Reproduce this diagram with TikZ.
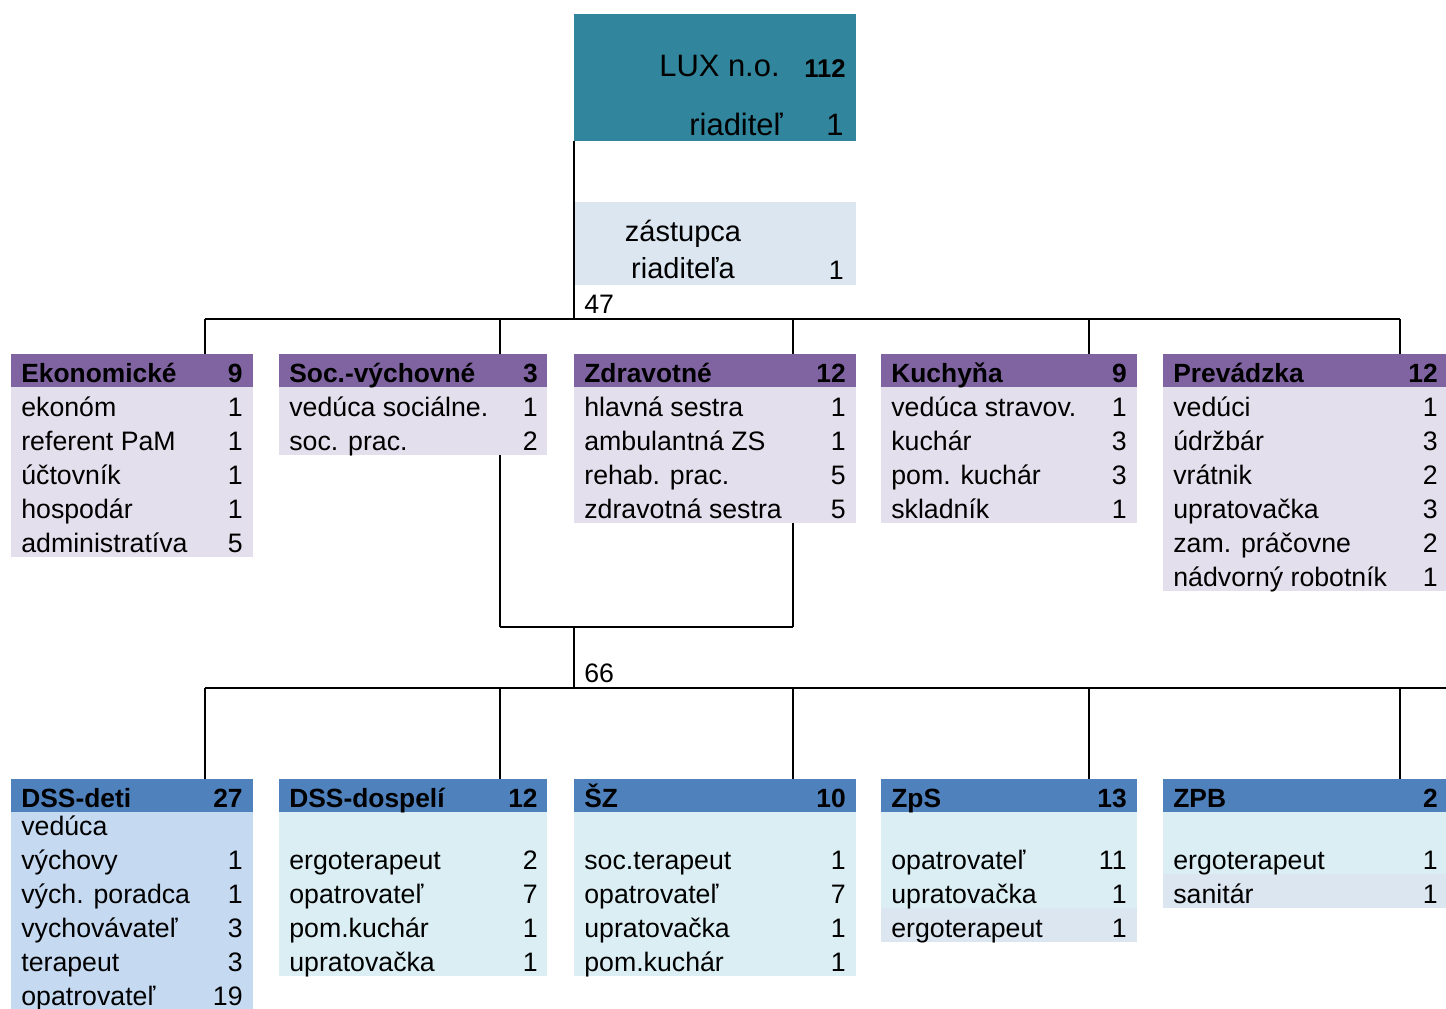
\documentclass[tikz,border=0pt]{standalone}
\usepackage{fontspec}
\setmainfont{Liberation Sans}
\definecolor{luxteal}{HTML}{31859C}
\definecolor{deputyblue}{HTML}{DCE6F1}
\definecolor{headpurple}{HTML}{8064A2}
\definecolor{bodypurple}{HTML}{E4DFEC}
\definecolor{headblue}{HTML}{4F81BD}
\definecolor{bodyblue}{HTML}{C5D9F1}
\definecolor{bodycyan}{HTML}{DAEEF3}
\tikzset{
    bus/.style={line width=1.1pt},
    link/.style={line width=0.8pt},
    head/.style={anchor=base west, inner sep=0pt, font=\bfseries\fontsize{15}{18}\selectfont},
    headnum/.style={anchor=base east, inner sep=0pt, font=\bfseries\fontsize{15}{18}\selectfont},
    job/.style={anchor=base west, inner sep=0pt, font=\fontsize{15.2}{18}\selectfont},
    jobnum/.style={anchor=base east, inner sep=0pt, font=\fontsize{15.2}{18}\selectfont},
}
\begin{document}
\begin{tikzpicture}[x=0.02cm, y=-0.02cm]
    \useasboundingbox (0,0) rectangle (1446,1008);
    \clip (0,0) rectangle (1446,1008);
    % Director and deputy
    \coordinate (lux) at (574,14);
    \fill [luxteal] (lux) rectangle (856,141);
    \node [job, anchor=base east, font=\fontsize{17.6}{20}\selectfont] (luxname) at (780,76) {LUX n.o.};
    \node [headnum, font=\bfseries\fontsize{14.6}{18}\selectfont] (luxnum) at (846,77) {112};
    \node [job, anchor=base east, font=\fontsize{17.6}{20}\selectfont] (boss) at (783,135) {riaditeľ};
    \node [jobnum, font=\fontsize{17.6}{20}\selectfont] (bossnum) at (844,135) {1};
    \coordinate (deputy) at (575,202);
    \fill [deputyblue] (deputy) rectangle (856,285);
    \node [job, anchor=base, font=\fontsize{16.5}{20}\selectfont] (deputy1) at (683,241) {zástupca};
    \node [job, anchor=base, font=\fontsize{16.5}{20}\selectfont] (deputy2) at (683,278) {riaditeľa};
    \node [jobnum] (deputynum) at (844,279) {1};
    % Upper bus
    \coordinate (top) at (574,141);
    \coordinate (bus47) at (574,319);
    \coordinate (busl) at (205,319);
    \coordinate (busr) at (1400,319);
    \draw [link] (top) -- (bus47);
    \draw [bus] (busl) -- (busr);
    \node [job] (sum47) at (584,313) {47};
    % Economic dept
    \coordinate (ekon) at (11,354);
    \fill [headpurple] (ekon) rectangle (253,387);
    \fill [bodypurple] (11,387) rectangle (253,557);
    \node [head] (ekon-name) at (21,382) {Ekonomické};
    \node [headnum] (ekon-num) at (243,382) {9};
    \foreach \jb/\cnt [count=\i] in {ekonóm/1, referent PaM/1, účtovník/1, hospodár/1, administratíva/5}
        {\node [job] (ekon-jb\i) at (21,382+34*\i) {\jb}; \node [jobnum] (ekon-cnt\i) at (243,382+34*\i) {\cnt};}
    % Social-educational dept
    \coordinate (soc) at (279,354);
    \fill [headpurple] (soc) rectangle (547,387);
    \fill [bodypurple] (279,387) rectangle (547,455);
    \node [head] (soc-name) at (289,382) {Soc.-výchovné};
    \node [headnum] (soc-num) at (538,382) {3};
    \foreach \jb/\cnt [count=\i] in {vedúca sociálne./1, soc. prac./2}
        {\node [job] (soc-jb\i) at (289,382+34*\i) {\jb}; \node [jobnum] (soc-cnt\i) at (538,382+34*\i) {\cnt};}
    % Health dept
    \coordinate (zdrav) at (574,354);
    \fill [headpurple] (zdrav) rectangle (856,387);
    \fill [bodypurple] (574,387) rectangle (856,523);
    \node [head] (zdrav-name) at (584,382) {Zdravotné};
    \node [headnum] (zdrav-num) at (846,382) {12};
    \foreach \jb/\cnt [count=\i] in {hlavná sestra/1, ambulantná ZS/1, rehab. prac./5, zdravotná sestra/5}
        {\node [job] (zdrav-jb\i) at (584,382+34*\i) {\jb}; \node [jobnum] (zdrav-cnt\i) at (846,382+34*\i) {\cnt};}
    % Kitchen
    \coordinate (kuch) at (881,354);
    \fill [headpurple] (kuch) rectangle (1137,387);
    \fill [bodypurple] (881,387) rectangle (1137,523);
    \node [head] (kuch-name) at (891,382) {Kuchyňa};
    \node [headnum] (kuch-num) at (1127,382) {9};
    \foreach \jb/\cnt [count=\i] in {vedúca stravov./1, kuchár/3, pom. kuchár/3, skladník/1}
        {\node [job] (kuch-jb\i) at (891,382+34*\i) {\jb}; \node [jobnum] (kuch-cnt\i) at (1127,382+34*\i) {\cnt};}
    % Operations
    \coordinate (prev) at (1163,354);
    \fill [headpurple] (prev) rectangle (1446,387);
    \fill [bodypurple] (1163,387) rectangle (1446,591);
    \node [head] (prev-name) at (1173,382) {Prevádzka};
    \node [headnum] (prev-num) at (1438,382) {12};
    \foreach \jb/\cnt [count=\i] in {vedúci/1, údržbár/3, vrátnik/2, upratovačka/3, zam. práčovne/2, nádvorný robotník/1}
        {\node [job] (prev-jb\i) at (1173,382+34*\i) {\jb}; \node [jobnum] (prev-cnt\i) at (1438,382+34*\i) {\cnt};}
    % Upper ticks
    \foreach \nm/\tx in {ekon/205, soc/500, zdrav/793, kuch/1089, prev/1400}
        {\coordinate (up-\nm) at (\tx,319); \draw [link] (up-\nm) -- (up-\nm |- \nm);}
    % Bracket down to the lower bus
    \coordinate (socbot) at (500,455);
    \coordinate (zdravbot) at (793,523);
    \coordinate (brl) at (500,627);
    \coordinate (brr) at (793,627);
    \coordinate (brm) at (574,627);
    \coordinate (bus66) at (574,688);
    \draw [link] (socbot) -- (brl);
    \draw [link] (zdravbot) -- (brr);
    \draw [bus] (brl) -- (brr);
    \draw [link] (brm) -- (bus66);
    \node [job] (sum66) at (584,682) {66};
    \coordinate (lbusl) at (205,688);
    \coordinate (lbusr) at (1446,688);
    \draw [bus] (lbusl) -- (lbusr);
    % DSS children
    \coordinate (deti) at (11,779);
    \fill [headblue] (deti) rectangle (253,812);
    \fill [bodyblue] (11,812) rectangle (253,1010);
    \node [head] (deti-name) at (21,807) {DSS-deti};
    \node [headnum] (deti-num) at (243,807) {27};
    \node [job] (deti-jb0) at (21,835) {vedúca};
    \foreach \jb/\cnt [count=\i] in {výchovy/1, vých. poradca/1, vychovávateľ/3, terapeut/3, opatrovateľ/19}
        {\node [job] (deti-jb\i) at (21,835+34*\i) {\jb}; \node [jobnum] (deti-cnt\i) at (243,835+34*\i) {\cnt};}
    % DSS adults
    \coordinate (dosp) at (279,779);
    \fill [headblue] (dosp) rectangle (547,812);
    \fill [bodycyan] (279,812) rectangle (547,976);
    \node [head] (dosp-name) at (289,807) {DSS-dospelí};
    \node [headnum] (dosp-num) at (538,807) {12};
    \foreach \jb/\cnt [count=\i] in {ergoterapeut/2, opatrovateľ/7, pom.kuchár/1, upratovačka/1}
        {\node [job] (dosp-jb\i) at (289,835+34*\i) {\jb}; \node [jobnum] (dosp-cnt\i) at (538,835+34*\i) {\cnt};}
    % SZ
    \coordinate (sz) at (574,779);
    \fill [headblue] (sz) rectangle (856,812);
    \fill [bodycyan] (574,812) rectangle (856,976);
    \node [head] (sz-name) at (584,807) {ŠZ};
    \node [headnum] (sz-num) at (846,807) {10};
    \foreach \jb/\cnt [count=\i] in {soc.terapeut/1, opatrovateľ/7, upratovačka/1, pom.kuchár/1}
        {\node [job] (sz-jb\i) at (584,835+34*\i) {\jb}; \node [jobnum] (sz-cnt\i) at (846,835+34*\i) {\cnt};}
    % ZpS
    \coordinate (zps) at (881,779);
    \fill [headblue] (zps) rectangle (1137,812);
    \fill [bodycyan] (881,812) rectangle (1137,908);
    \fill [deputyblue] (881,908) rectangle (1137,942);
    \node [head] (zps-name) at (891,807) {ZpS};
    \node [headnum] (zps-num) at (1127,807) {13};
    \foreach \jb/\cnt [count=\i] in {opatrovateľ/11, upratovačka/1, ergoterapeut/1}
        {\node [job] (zps-jb\i) at (891,835+34*\i) {\jb}; \node [jobnum] (zps-cnt\i) at (1127,835+34*\i) {\cnt};}
    % ZPB
    \coordinate (zpb) at (1163,779);
    \fill [headblue] (zpb) rectangle (1446,812);
    \fill [bodycyan] (1163,812) rectangle (1446,874);
    \fill [deputyblue] (1163,874) rectangle (1446,908);
    \node [head] (zpb-name) at (1173,807) {ZPB};
    \node [headnum] (zpb-num) at (1438,807) {2};
    \foreach \jb/\cnt [count=\i] in {ergoterapeut/1, sanitár/1}
        {\node [job] (zpb-jb\i) at (1173,835+34*\i) {\jb}; \node [jobnum] (zpb-cnt\i) at (1438,835+34*\i) {\cnt};}
    % Lower ticks
    \foreach \nm/\tx in {deti/205, dosp/500, sz/793, zps/1089, zpb/1400}
        {\coordinate (lo-\nm) at (\tx,688); \draw [link] (lo-\nm) -- (lo-\nm |- \nm);}
\end{tikzpicture}
\end{document}
